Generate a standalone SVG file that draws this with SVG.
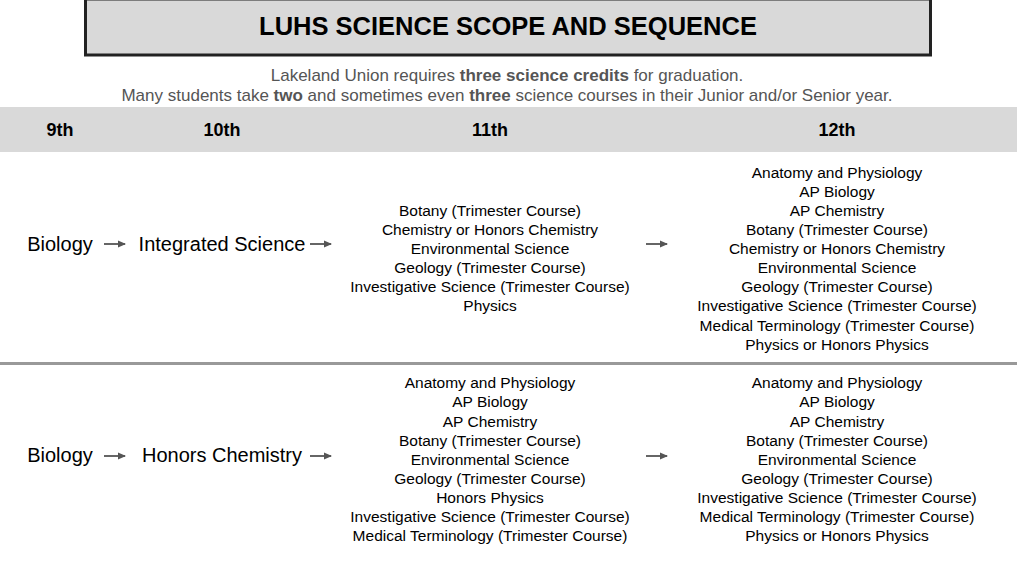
<svg xmlns="http://www.w3.org/2000/svg" width="1028" height="573" viewBox="0 0 1028 573">
<style>
text{font-family:"Liberation Sans",Arial,sans-serif;fill:#000}
.t{font-size:25.5px;font-weight:bold}
.sub{font-size:17px;fill:#555}
.h{font-size:18px;font-weight:bold}
.big{font-size:20px}
.c{font-size:15.5px}
.m{text-anchor:middle}
.ar{stroke:#666;stroke-width:2;fill:none}
</style>
<defs>
<marker id="ah" markerWidth="8" markerHeight="8" refX="7" refY="4" orient="auto" markerUnits="userSpaceOnUse">
<path d="M0,0.5 L8,4 L0,7.5 Z" fill="#555"/>
</marker>
</defs>
<rect width="1028" height="573" fill="#fff"/>
<g id="title">
<rect x="85.5" y="-1" width="845" height="56" fill="#d9d9d9" stroke="#222" stroke-width="3"/>
<text class="t m" x="508" y="35">LUHS SCIENCE SCOPE AND SEQUENCE</text>
</g>
<g id="subtitle">
<text class="sub m" x="507" y="81">Lakeland Union requires <tspan font-weight="bold">three science credits</tspan> for graduation.</text>
<text class="sub m" x="507" y="101">Many students take <tspan font-weight="bold">two</tspan> and sometimes even <tspan font-weight="bold">three</tspan> science courses in their Junior and/or Senior year.</text>
</g>
<g id="header">
<rect x="0" y="107" width="1017" height="45" fill="#d9d9d9"/>
<text class="h m" x="60" y="136">9th</text>
<text class="h m" x="222" y="136">10th</text>
<text class="h m" x="490" y="136">11th</text>
<text class="h m" x="837" y="136">12th</text>
</g>
<rect id="separator" x="0" y="362" width="1017" height="3" fill="#999"/>
<g id="row1-9th"><text class="big m" x="60" y="251">Biology</text></g>
<g id="row1-10th"><text class="big m" x="222" y="251">Integrated Science</text></g>
<g id="row1-11th">
<text class="c m" x="490" y="216">Botany (Trimester Course)</text>
<text class="c m" x="490" y="235">Chemistry or Honors Chemistry</text>
<text class="c m" x="490" y="254">Environmental Science</text>
<text class="c m" x="490" y="273">Geology (Trimester Course)</text>
<text class="c m" x="490" y="292">Investigative Science (Trimester Course)</text>
<text class="c m" x="490" y="311">Physics</text>
</g>
<g id="row1-12th">
<text class="c m" x="837" y="178">Anatomy and Physiology</text>
<text class="c m" x="837" y="197">AP Biology</text>
<text class="c m" x="837" y="216">AP Chemistry</text>
<text class="c m" x="837" y="235">Botany (Trimester Course)</text>
<text class="c m" x="837" y="254">Chemistry or Honors Chemistry</text>
<text class="c m" x="837" y="273">Environmental Science</text>
<text class="c m" x="837" y="292">Geology (Trimester Course)</text>
<text class="c m" x="837" y="311">Investigative Science (Trimester Course)</text>
<text class="c m" x="837" y="331">Medical Terminology (Trimester Course)</text>
<text class="c m" x="837" y="350">Physics or Honors Physics</text>
</g>
<g id="row2-9th"><text class="big m" x="60" y="462">Biology</text></g>
<g id="row2-10th"><text class="big m" x="222" y="462">Honors Chemistry</text></g>
<g id="row2-11th">
<text class="c m" x="490" y="388">Anatomy and Physiology</text>
<text class="c m" x="490" y="407">AP Biology</text>
<text class="c m" x="490" y="427">AP Chemistry</text>
<text class="c m" x="490" y="446">Botany (Trimester Course)</text>
<text class="c m" x="490" y="465">Environmental Science</text>
<text class="c m" x="490" y="484">Geology (Trimester Course)</text>
<text class="c m" x="490" y="503">Honors Physics</text>
<text class="c m" x="490" y="522">Investigative Science (Trimester Course)</text>
<text class="c m" x="490" y="541">Medical Terminology (Trimester Course)</text>
</g>
<g id="row2-12th">
<text class="c m" x="837" y="388">Anatomy and Physiology</text>
<text class="c m" x="837" y="407">AP Biology</text>
<text class="c m" x="837" y="427">AP Chemistry</text>
<text class="c m" x="837" y="446">Botany (Trimester Course)</text>
<text class="c m" x="837" y="465">Environmental Science</text>
<text class="c m" x="837" y="484">Geology (Trimester Course)</text>
<text class="c m" x="837" y="503">Investigative Science (Trimester Course)</text>
<text class="c m" x="837" y="522">Medical Terminology (Trimester Course)</text>
<text class="c m" x="837" y="541">Physics or Honors Physics</text>
</g>
<g id="connectors">
<line class="ar" x1="104" y1="244" x2="125" y2="244" marker-end="url(#ah)"/>
<line class="ar" x1="310" y1="244" x2="331" y2="244" marker-end="url(#ah)"/>
<line class="ar" x1="646" y1="244" x2="667" y2="244" marker-end="url(#ah)"/>
<line class="ar" x1="104" y1="456" x2="125" y2="456" marker-end="url(#ah)"/>
<line class="ar" x1="310" y1="456" x2="331" y2="456" marker-end="url(#ah)"/>
<line class="ar" x1="646" y1="456" x2="667" y2="456" marker-end="url(#ah)"/>
</g>
</svg>
